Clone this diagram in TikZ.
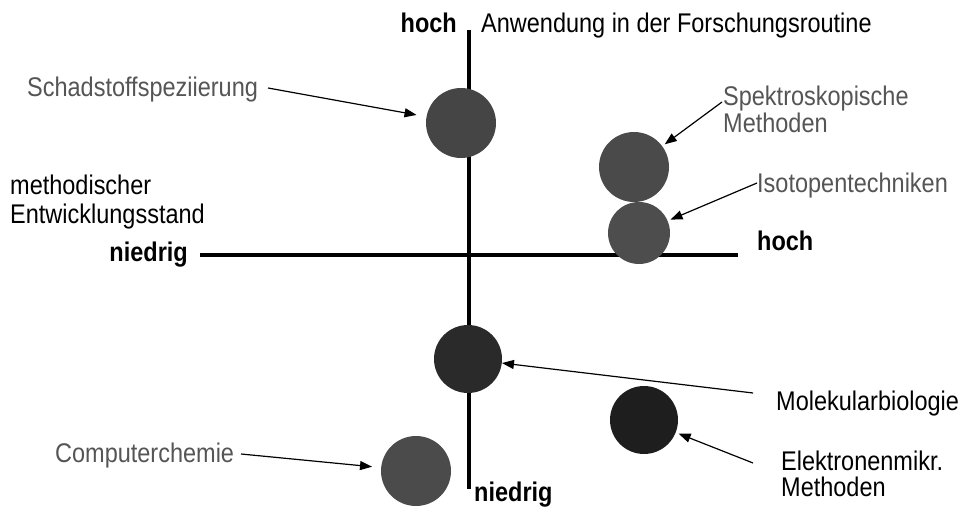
\documentclass[tikz,border=0pt]{standalone}
\usepackage{fontspec}
\setmainfont{Liberation Sans}[FakeStretch=0.87]
\usetikzlibrary{arrows.meta}
\definecolor{labgrey}{HTML}{555555}
\definecolor{dotA}{HTML}{454545}
\definecolor{dotB}{HTML}{4A4A4A}
\definecolor{dotC}{HTML}{4D4D4D}
\definecolor{dotD}{HTML}{2A2A2A}
\definecolor{dotE}{HTML}{1E1E1E}
\definecolor{dotF}{HTML}{4B4B4B}
\begin{document}
\begin{tikzpicture}[x=1pt,y=-1pt,
  lbl/.style={inner sep=0pt, font=\fontsize{27}{29}\selectfont},
  glbl/.style={lbl, text=labgrey},
  axlbl/.style={inner sep=0pt, font=\fontsize{27}{29}\selectfont\bfseries},
  axisline/.style={line width=4pt},
  arr/.style={line width=1.2pt, -{Triangle[length=12pt,width=9pt]}},
  dot/.style={circle, inner sep=0pt, minimum size=#1}]
\useasboundingbox[fill=white] (0,0) rectangle (961,510);

% axes
\coordinate (vtop) at (469,30);
\coordinate (vbot) at (469,489);
\coordinate (hleft) at (200,255);
\coordinate (hright) at (738,255);
\draw[axisline] (vtop) -- (vbot);
\draw[axisline] (hleft) -- (hright);

% axis labels
\node[axlbl, anchor=base east] (hochtop) at (457,33) {hoch};
\node[lbl, anchor=base west] (anw) at (481,33) {Anwendung in der Forschungsroutine};
\node[lbl, anchor=north west, align=left, font=\fontsize{27}{29}\selectfont] (meth) at (10,175) {methodischer\\Entwicklungsstand};
\node[axlbl, anchor=base east] (niedrigl) at (188,262) {niedrig};
\node[axlbl, anchor=base west] (hochr) at (757,251) {hoch};
\node[axlbl, anchor=base west] (niedrigb) at (474,501) {niedrig};

% circles
\node[dot=70pt, fill=dotA] (c1) at (461,123) {};
\node[dot=70pt, fill=dotB] (c2) at (634,167) {};
\node[dot=62pt, fill=dotC] (c3) at (639,233) {};
\node[dot=68pt, fill=dotD] (c4) at (468,359) {};
\node[dot=68pt, fill=dotE] (c5) at (644,420) {};
\node[dot=70pt, fill=dotF] (c6) at (416,471) {};

% labels
\node[glbl, anchor=north west, align=left, font=\fontsize{27}{27}\selectfont] (spek) at (723,86) {Spektroskopische\\Methoden};
\node[glbl, anchor=base west] (schad) at (27,97) {Schadstoffspeziierung};
\node[glbl, anchor=base west] (iso) at (757,193) {Isotopentechniken};
\node[lbl, anchor=base west] (mol) at (776,410) {Molekularbiologie};
\node[lbl, anchor=north west, align=left, font=\fontsize{27}{25.5}\selectfont] (elek) at (781,451) {Elektronenmikr.\\Methoden};
\node[glbl, anchor=base west] (comp) at (55,462) {Computerchemie};

% arrow starts
\coordinate (s1) at (268,88);
\coordinate (s2) at (722,102);
\coordinate (s3) at (757,183);
\coordinate (s4) at (753,393);
\coordinate (s5) at (753,463);
\coordinate (s6) at (241,454);

\draw[arr, shorten >=10pt] (s1) -- (c1);
\draw[arr, shorten >=3pt] (s2) -- (c2);
\draw[arr, shorten >=3pt] (s3) -- (c3);
\draw[arr] (s4) -- (c4);
\draw[arr, shorten >=3pt] (s5) -- (c5);
\draw[arr, shorten >=9pt] (s6) -- (c6);
\end{tikzpicture}
\end{document}
